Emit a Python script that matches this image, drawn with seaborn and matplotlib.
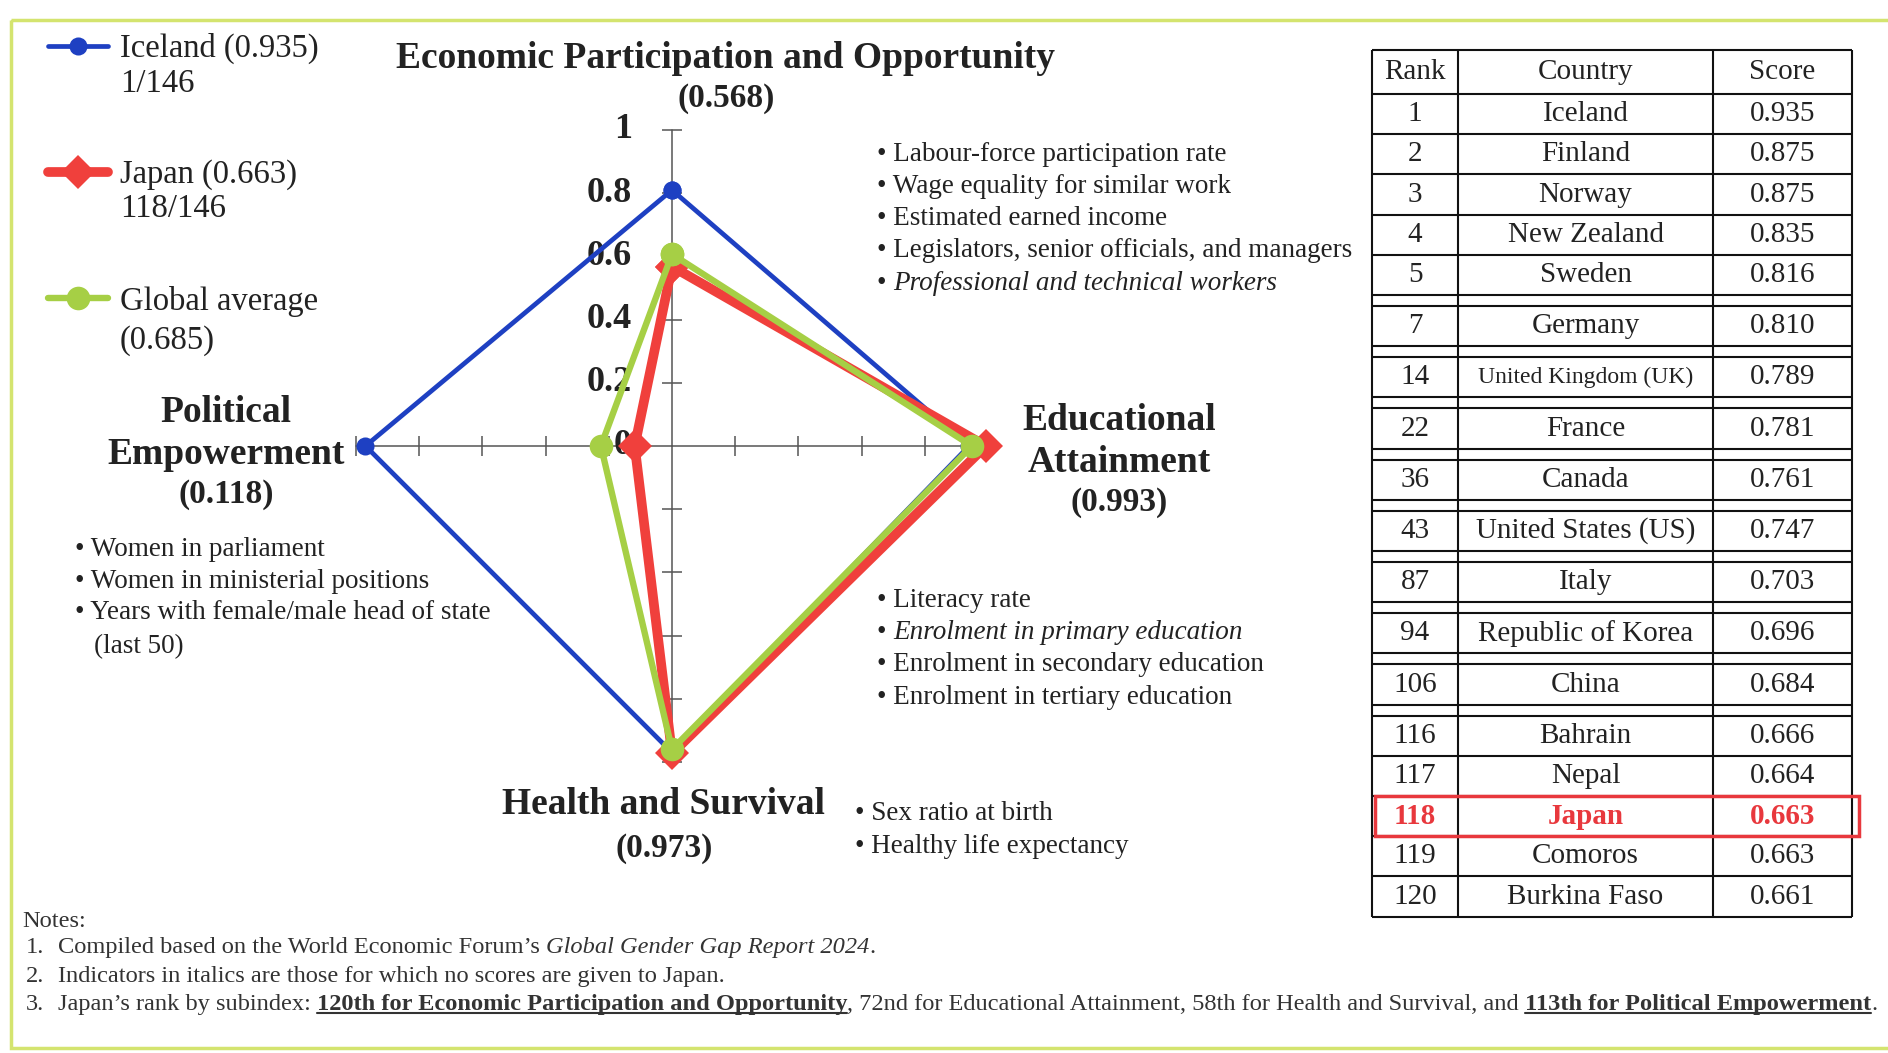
import numpy as np
import pandas as pd
import seaborn as sns
import matplotlib.pyplot as plt
from matplotlib.patches import Rectangle

# Gender gap 2024 - radar de subíndices + tabla de ranking

## Datos
subindex = ["Economic Participation and Opportunity", "Educational Attainment",
            "Health and Survival", "Political Empowerment"]
iceland_scores = [0.81, 0.94, 0.97, 0.97]
japan_scores = [0.568, 0.993, 0.973, 0.118]
global_scores = [0.607, 0.949, 0.960, 0.225]

series_labels = ["Iceland (0.935)", "Japan (0.663)", "Global average"]
series_sublabels = ["1/146", "118/146", "(0.685)"]

tick_values = [0, 0.2, 0.4, 0.6, 0.8, 1]
tick_labels = ["0", "0.2", "0.4", "0.6", "0.8", "1"]

ranks = ["1", "2", "3", "4", "5", "7", "14", "22", "36", "43", "87", "94",
         "106", "116", "117", "118", "119", "120"]
countries = ["Iceland", "Finland", "Norway", "New Zealand", "Sweden", "Germany",
             "United Kingdom (UK)", "France", "Canada", "United States (US)", "Italy",
             "Republic of Korea", "China", "Bahrain", "Nepal", "Japan", "Comoros",
             "Burkina Faso"]
scores = ["0.935", "0.875", "0.875", "0.835", "0.816", "0.810", "0.789", "0.781",
          "0.761", "0.747", "0.703", "0.696", "0.684", "0.666", "0.664", "0.663",
          "0.663", "0.661"]
gap_after = ["Sweden", "Germany", "United Kingdom (UK)", "France", "Canada",
             "United States (US)", "Italy", "Republic of Korea", "China"]

econ_items = [[("• Labour-force participation rate", "")],
              [("• Wage equality for similar work", "")],
              [("• Estimated earned income", "")],
              [("• Legislators, senior officials, and managers", "")],
              [("• ", ""), ("Professional and technical workers", "i")]]
edu_items = [[("• Literacy rate", "")],
             [("• ", ""), ("Enrolment in primary education", "i")],
             [("• Enrolment in secondary education", "")],
             [("• Enrolment in tertiary education", "")]]
pol_items = ["• Women in parliament", "• Women in ministerial positions",
             "• Years with female/male head of state"]
health_items = ["• Sex ratio at birth", "• Healthy life expectancy"]

## Estilo
sns.set_theme(style="white")
plt.rcParams['font.family'] = ['Liberation Serif', 'DejaVu Serif']
TXT = "#222222"
C_ICE, C_JPN, C_GLB = "#1e40c2", "#f0403c", "#a6cf45"

W, H, DPI = 1888, 1053, 100
fig = plt.figure(figsize=(W / DPI, H / DPI), dpi=DPI)
fig.patch.set_facecolor("white")

# ejes de fondo en pixeles (textos, tabla, marco)
ax_bg = fig.add_axes([0, 0, 1, 1], zorder=0)
ax_bg.set_xlim(0, W)
ax_bg.set_ylim(H, 0)
ax_bg.axis('off')
renderer = fig.canvas.get_renderer()


def draw_runs(x, yc, runs, size, color=TXT):
    em = size * DPI / 72
    base = yc + 0.32 * em
    for txt, st in runs:
        lead = len(txt) - len(txt.lstrip(' '))
        trail = len(txt) - len(txt.rstrip(' '))
        x += lead * 0.25 * em
        t = ax_bg.text(x, base, txt.strip(' '), fontsize=size, va='baseline', ha='left',
                       color=color, fontweight='bold' if 'b' in st else 'normal',
                       fontstyle='italic' if 'i' in st else 'normal')
        bw = t.get_window_extent(renderer).width
        if 'u' in st:
            ax_bg.plot([x, x + bw], [base + 0.11 * em] * 2, color=color, lw=1.5)
        x += bw + trail * 0.25 * em
    return x


def center_text(x, yc, s, size, bold=True):
    ax_bg.text(x, yc, s, fontsize=size, ha='center', va='center', color=TXT,
               fontweight='bold' if bold else 'normal')


# marco
ax_bg.add_patch(Rectangle((11, 20), 1900, 1028, fill=False, edgecolor="#d4e46f",
                          lw=2.5, clip_on=False))

## Radar
cx, cy, R = 672, 446, 316
ax = fig.add_axes([(cx - R) / W, 1 - (cy + R) / H, 2 * R / W, 2 * R / H],
                  projection='polar', zorder=2)
ax.set_theta_zero_location('N')
ax.set_theta_direction(-1)
ax.set_ylim(0, 1)
ax.grid(False)
ax.set_xticks([])
ax.set_yticks([])
ax.spines['polar'].set_visible(False)
ax.patch.set_alpha(0)

angles = np.arange(len(subindex) + 1) * np.pi / 2  # posiciones de los 4 ejes (cerrado)

# ejes en cruz con marcas
for th in angles[:4]:
    ax.plot([th, th], [0, 1], color="#555555", lw=1.1, zorder=1, clip_on=False)
ticks_r = np.array(tick_values[1:])
for th, mk in zip(angles[:4], ['_', '|', '_', '|']):
    ax.plot([th] * len(ticks_r), ticks_r, ls='none', marker=mk, markersize=15,
            markeredgewidth=1.1, color="#555555", zorder=1, clip_on=False)
for v, lbl in zip(tick_values, tick_labels):
    ax.annotate(lbl, xy=(0, v), xytext=(-40, 0), textcoords='offset pixels',
                ha='right', va='center', fontsize=26, fontweight='bold', color=TXT,
                zorder=1, annotation_clip=False)

series = [(iceland_scores, C_ICE, 3.4, 'o', 13, 3),
          (japan_scores, C_JPN, 7.0, 'D', 17, 4),
          (global_scores, C_GLB, 4.6, 'o', 17, 5)]
handles = []
for vals, col, lw, mk, ms, z in series:
    df = pd.DataFrame({"theta": angles, "score": list(vals) + [vals[0]]})
    sns.lineplot(data=df, x="theta", y="score", sort=False, estimator=None, ax=ax,
                 color=col, linewidth=lw, marker=mk, markersize=ms,
                 markeredgewidth=0, zorder=z, clip_on=False, legend=False)
    handles.append(ax.lines[-1])
ax.set_xlabel("")
ax.set_ylabel("")

## Leyenda
fig.legend(handles, series_labels, loc='upper left', bbox_to_anchor=(48 / W, 1 - 33 / H),
           frameon=False, fontsize=23.5, labelspacing=2.92, handlelength=1.84,
           handletextpad=0.37, borderpad=0, borderaxespad=0, labelcolor=TXT)
for s, yc in zip(series_sublabels, [82, 207, 338]):
    draw_runs(120, yc, [(s, "")], 23.5)

## Titulos de los ejes
center_text(725, 58, "Economic Participation and Opportunity", 27)
center_text(726, 99, "(0.568)", 24)
center_text(1119, 421, "Educational", 27)
center_text(1119, 462, "Attainment", 27)
center_text(1119, 503, "(0.993)", 24)
center_text(226, 413, "Political", 27)
center_text(226, 454, "Empowerment", 27)
center_text(226, 495, "(0.118)", 24)
center_text(663, 805, "Health and Survival", 27)
center_text(664, 848, "(0.973)", 24)

## Indicadores
for runs, yc in zip(econ_items, [152, 184, 216, 248, 281]):
    draw_runs(877, yc, runs, 19.5)
for runs, yc in zip(edu_items, [598, 630, 662, 695]):
    draw_runs(877, yc, runs, 19.5)
for s, yc in zip(pol_items, [547, 579, 610]):
    draw_runs(75, yc, [(s, "")], 19.5)
draw_runs(94, 644, [("(last 50)", "")], 19.5)
for s, yc in zip(health_items, [811, 844]):
    draw_runs(855, yc, [(s, "")], 19.5)

## Notas
NS = 17.6
NC = "#333333"
draw_runs(22, 919, [("Notes:", "")], NS, NC)
draw_runs(26, 945, [("1.", "")], NS, NC)
draw_runs(58, 945, [("Compiled based on the World Economic Forum’s ", ""),
                    ("Global Gender Gap Report 2024", "i"), (".", "")], NS, NC)
draw_runs(26, 974, [("2.", "")], NS, NC)
draw_runs(58, 974, [("Indicators in italics are those for which no scores are given to Japan.", "")],
          NS, NC)
draw_runs(26, 1002, [("3.", "")], NS, NC)
draw_runs(58, 1002, [("Japan’s rank by subindex: ", ""),
                     ("120th for Economic Participation and Opportunity", "bu"),
                     (", 72nd for Educational Attainment, 58th for Health and Survival, and ", ""),
                     ("113th for Political Empowerment", "bu"), (".", "")], NS, NC)

## Tabla
xs = [1372, 1458, 1713, 1852]
col_c = [(xs[0] + xs[1]) / 2, (xs[1] + xs[2]) / 2, (xs[2] + xs[3]) / 2]
top, head_h, row_h, gap_h = 50, 44, 40.2, 11
TS = 21
y = top
ax_bg.hlines(y, xs[0], xs[3], color="#111111", lw=1.5)
for c, s in zip(col_c, ["Rank", "Country", "Score"]):
    center_text(c, y + head_h / 2, s, TS, bold=False)
y += head_h
ax_bg.hlines(y, xs[0], xs[3], color="#111111", lw=1.5)
for rk, ct, sc in zip(ranks, countries, scores):
    yc = y + row_h / 2
    is_jp = ct == "Japan"
    for c, s in zip(col_c, [rk, ct, sc]):
        ax_bg.text(c, yc, s, fontsize=17 if "Kingdom" in s else TS, ha='center',
                   va='center', color="#e8383d" if is_jp else TXT,
                   fontweight='bold' if is_jp else 'normal')
    if is_jp:
        ax_bg.add_patch(Rectangle((xs[0] + 3, y), xs[3] - xs[0] + 4, row_h, fill=False,
                                  edgecolor="#e8383d", lw=2.5, zorder=3))
    y += row_h
    ax_bg.hlines(y, xs[0], xs[3], color="#111111", lw=1.5)
    if ct in gap_after:
        y += gap_h
        ax_bg.hlines(y, xs[0], xs[3], color="#111111", lw=1.5)
ax_bg.vlines(xs, top, y, color="#111111", lw=1.5)

fig.savefig("out.png", dpi=DPI)
